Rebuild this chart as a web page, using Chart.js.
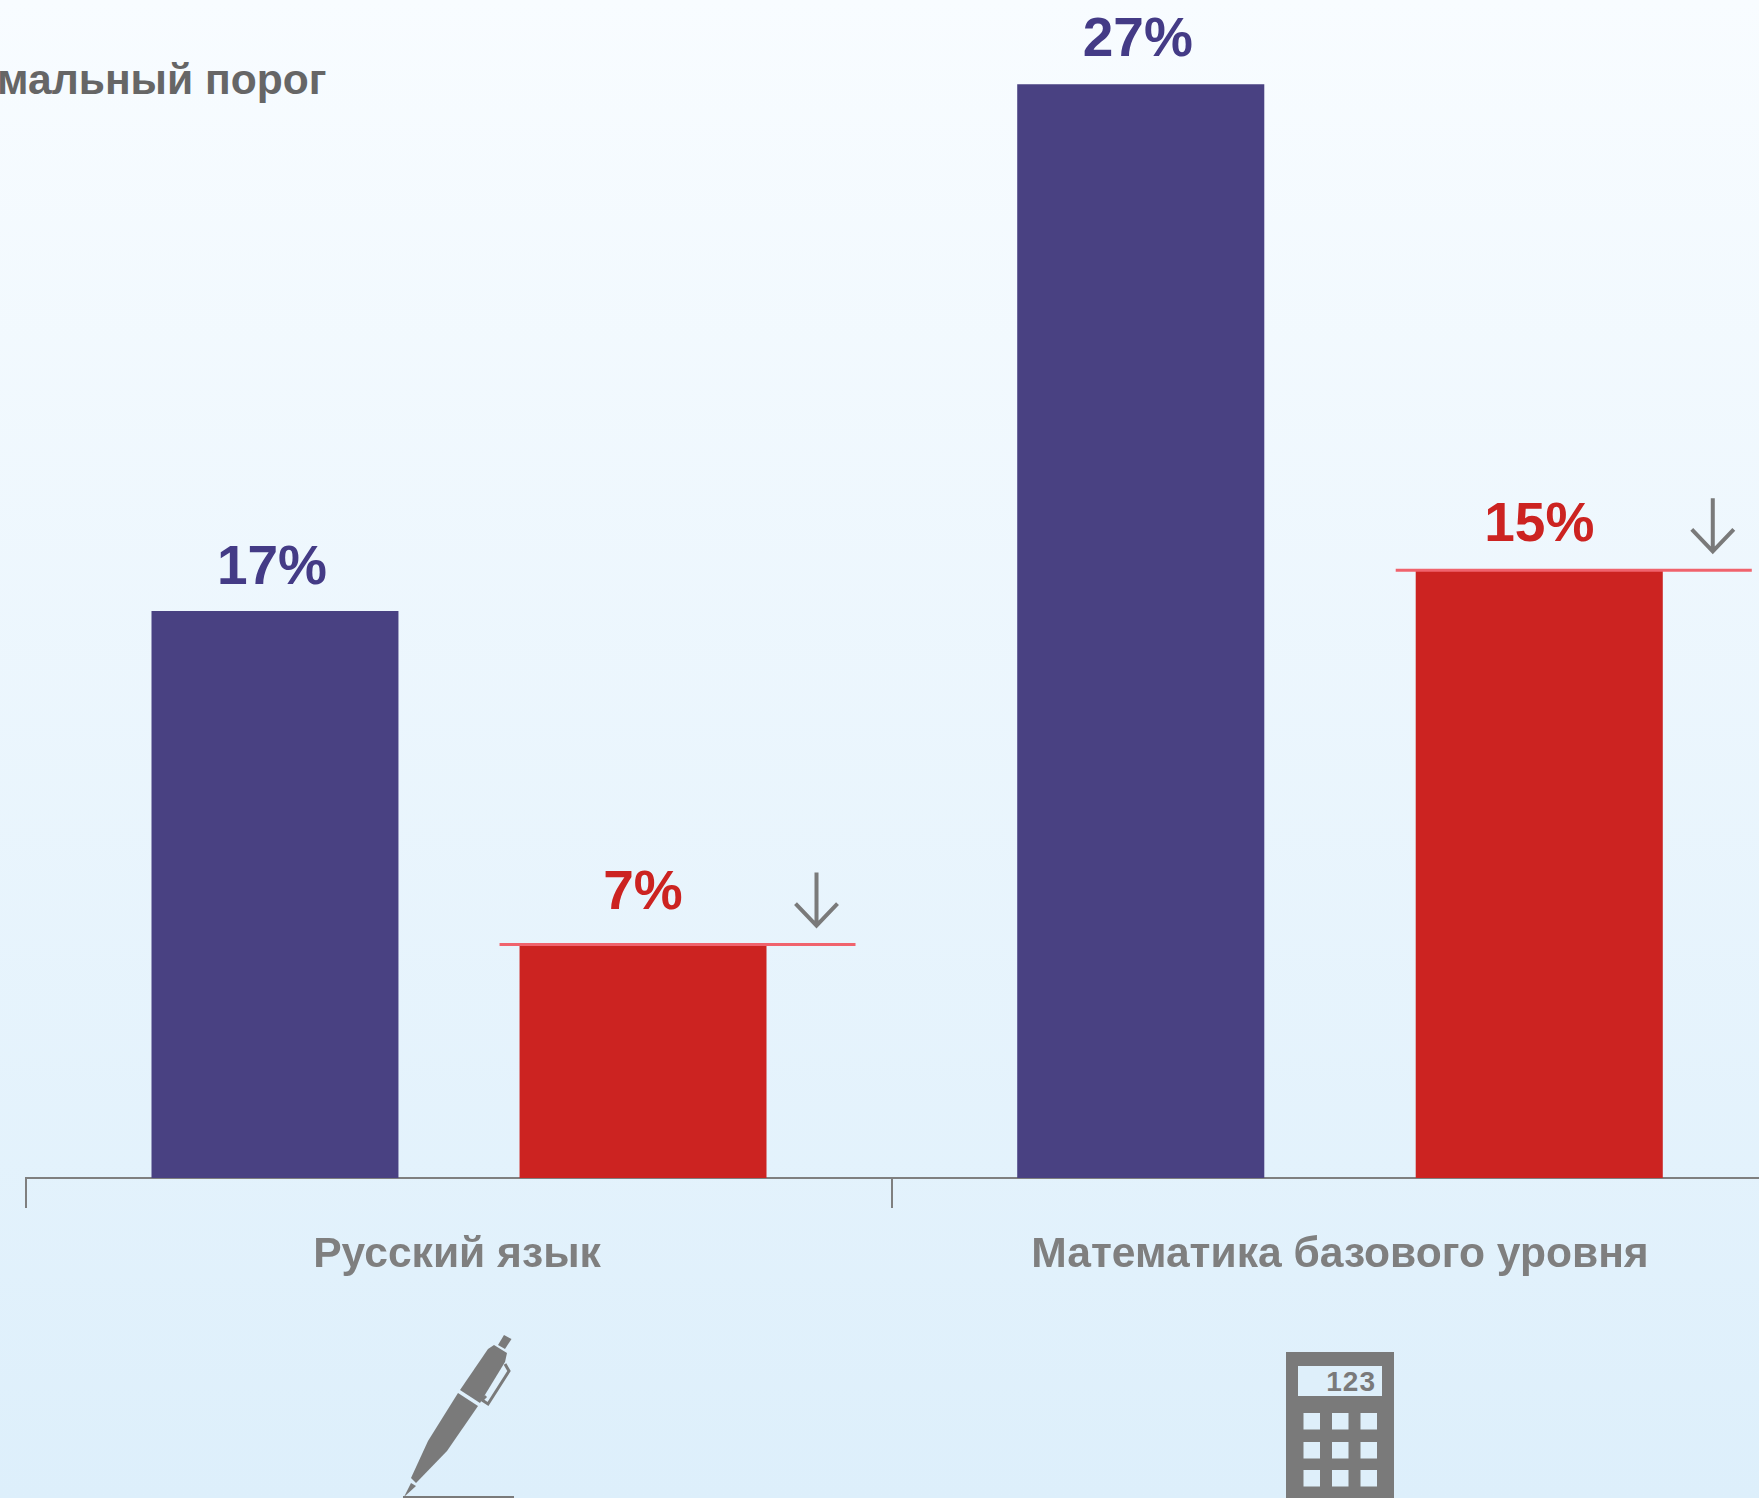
<!DOCTYPE html>
<html lang="ru">

<head>
    <meta charset="UTF-8">
    <title>Минимальный порог</title>
    <script src="https://cdn.jsdelivr.net/npm/chart.js"></script>
    <style>
        html, body { margin: 0; padding: 0; }
        body {
            position: relative;
            width: 1759px;
            height: 1498px;
            overflow: hidden;
            background: linear-gradient(to bottom, #f8fcff 0%, #ddeffb 100%);
            font-family: "Liberation Sans", sans-serif;
        }
        canvas, svg, .caption { position: absolute; }
        .caption {
            left: -3px;
            top: 54px;
            font-size: 42.6px;
            line-height: 50px;
            font-weight: bold;
            color: #666666;
            white-space: nowrap;
        }
    </style>
</head>

<body>
    <div class="caption">мальный порог</div>
    <canvas id="chartRu" width="900" height="1498" style="left:0;top:0"></canvas>
    <canvas id="chartMath" width="920" height="1498" style="left:880px;top:0"></canvas>

    <svg width="1759" height="1498" style="left:0;top:0" fill="#7a7a7a">
        <!-- pen -->
        <polygon points="504,1335 511.5,1339 505,1349 498,1345" />
        <polygon points="488,1349 494,1345 507,1353 505,1362 480,1403 460,1390" />
        <polygon points="458,1393 478,1406 447,1451 416,1483 411,1478 428,1441" />
        <polygon points="411,1483 416,1486 404,1497" />
        <polyline points="505,1364 509,1371 488,1404 482,1400 486,1396" fill="none" stroke="#7a7a7a" stroke-width="3" />
        <rect x="403" y="1496" width="111" height="2" />
        <!-- calculator -->
        <rect x="1286" y="1352" width="108" height="146" />
        <g fill="#deeffa">
            <rect x="1298" y="1366" width="84" height="30" />
            <rect x="1303.5" y="1413" width="16.5" height="16.5" />
            <rect x="1332" y="1413" width="16.5" height="16.5" />
            <rect x="1360.5" y="1413" width="16.5" height="16.5" />
            <rect x="1303.5" y="1442" width="16.5" height="16.5" />
            <rect x="1332" y="1442" width="16.5" height="16.5" />
            <rect x="1360.5" y="1442" width="16.5" height="16.5" />
            <rect x="1303.5" y="1470" width="16.5" height="16.5" />
            <rect x="1332" y="1470" width="16.5" height="16.5" />
            <rect x="1360.5" y="1470" width="16.5" height="16.5" />
        </g>
        <text x="1376" y="1391" text-anchor="end" font-family="Liberation Sans" font-weight="bold" font-size="28" letter-spacing="1">123</text>
    </svg>

    <script>
        const categories = ['Русский язык', 'Математика базового уровня'];
        const seriesBlue = [17, 27];
        const seriesRed = [7, 15];
        const axisMax = [35.32, 29.08]; // each subject has its own height scale

        const BLUE = '#494182';
        const RED = '#cc2321';
        const GREY = '#7f7f7f';

        // value labels, threshold line and down arrow
        const barNotes = {
            id: 'barNotes',
            afterDatasetsDraw(chart, args, opts) {
                const ctx = chart.ctx;
                ctx.save();
                ctx.font = 'bold 55px "Liberation Sans"';
                ctx.textAlign = 'center';
                ctx.textBaseline = 'alphabetic';
                chart.data.datasets.forEach((ds, i) => {
                    const bar = chart.getDatasetMeta(i).data[0];
                    ctx.fillStyle = ds.labelColor;
                    ctx.fillText(ds.data[0] + '%', bar.x - ds.labelShift, bar.y - ds.labelGap);
                });

                const red = chart.getDatasetMeta(1).data[0];
                const right = red.x + red.width / 2;
                const left = red.x - red.width / 2;
                ctx.strokeStyle = '#f0636d';
                ctx.lineWidth = 3;
                ctx.beginPath();
                ctx.moveTo(left - 20, red.y);
                ctx.lineTo(right + 89, red.y);
                ctx.stroke();

                ctx.strokeStyle = '#7a7a7a';
                ctx.lineWidth = 4;
                ctx.beginPath();
                ctx.moveTo(right + 50, red.y - 72);
                ctx.lineTo(right + 50, red.y - 19);
                ctx.moveTo(right + 29, red.y - 41);
                ctx.lineTo(right + 50, red.y - 19);
                ctx.lineTo(right + 71, red.y - 41);
                ctx.stroke();
                ctx.restore();
            }
        };

        function drawSubject(id, index, padLeft, padRight, catPct, barPct, gaps, shifts, labelOffset) {
            new Chart(document.getElementById(id), {
                type: 'bar',
                data: {
                    labels: [categories[index]],
                    datasets: [
                        { data: [seriesBlue[index]], backgroundColor: BLUE, labelColor: '#443b86', labelGap: gaps[0], labelShift: shifts[0] },
                        { data: [seriesRed[index]], backgroundColor: RED, labelColor: RED, labelGap: gaps[1], labelShift: shifts[1] }
                    ]
                },
                options: {
                    responsive: false,
                    animation: false,
                    events: [],
                    categoryPercentage: catPct,
                    barPercentage: barPct,
                    layout: { padding: { left: padLeft, right: padRight, top: 0, bottom: 0 } },
                    plugins: { legend: { display: false }, tooltip: { enabled: false } },
                    scales: {
                        x: {
                            afterFit: scale => { scale.height = 1498 - 1178; },
                            border: { color: GREY, width: 2 },
                            grid: { offset: true, drawOnChartArea: false, color: GREY, lineWidth: 2, tickLength: 30 },
                            ticks: {
                                color: GREY,
                                padding: 22,
                                maxRotation: 0,
                                labelOffset: labelOffset,
                                font: { family: '"Liberation Sans"', size: 42.6, weight: 'bold' }
                            }
                        },
                        y: { display: false, min: 0, max: axisMax[index] }
                    }
                },
                plugins: [barNotes]
            });
        }

        drawSubject('chartRu', 0, 26, 8, 0.85, 0.671, [27, 36], [3, 0], -2);
        drawSubject('chartMath', 1, 12, 12, 0.8895, 0.62, [28, 29], [3, 0], 0);
    </script>
</body>

</html>
